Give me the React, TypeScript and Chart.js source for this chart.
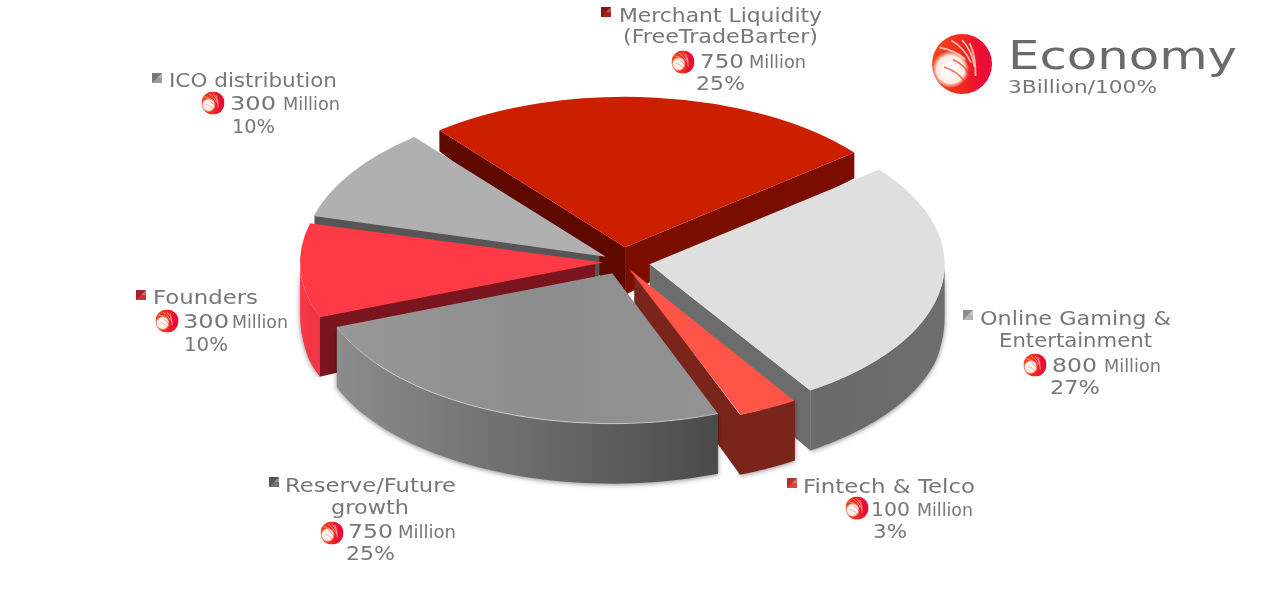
import React, { useEffect, useRef } from "react";
import { Chart, registerables } from "chart.js";

Chart.register(...registerables);

const names = ["Merchant Liquidity (FreeTradeBarter)", "Online Gaming & Entertainment", "Fintech & Telco", "Reserve/Future growth", "Founders", "ICO distribution"];
const tokens = [750, 800, 100, 750, 300, 300];
const amounts = ["750", "800", "100", "750", "300", "300"];
const percents = ["25%", "27%", "3%", "25%", "10%", "10%"];
const unit = "Million";
const titleText = "Economy";
const subtitleText = "3Billion/100%";

const topColors = ["#cb1f00", "#dfdfdf", "#ff5548", "#8f8f8f", "#ff3a47", "#b0b0b0"];
const startWall = ["#5e0800", "#6a6a6a", "#7a241c", "#777777", "#7a1520", "#565656"];
const endWall = ["#7a0c00", "#6c6c6c", "#7a241c", "#555555", "#7a1520", "#565656"];
const swatchColors = ["#a8201a", "#b4b4b4", "#e0453a", "#6f6f6f", "#d0303c", "#9a9a9a"];
const explode = [29, 28, 27, 24, 27, 27];
const drawOrder = [0, 5, 4, 1, 2, 3];

const SQUASH = 0.51;
const RADIUS = 295;

type Line = { text: string; x0: number; x1: number; y: number; size: number };
type Block = { swatch: [number, number]; icon: [number, number]; lines: Line[] };

function nameLines(i: number, splits: number[][], ys: number[]): Line[] {
  const words = names[i].split(" ");
  const out: Line[] = [];
  let w = 0;
  for (let l = 0; l < splits.length; l++) {
    const count = splits[l][2];
    out.push({ text: words.slice(w, w + count).join(" "), x0: splits[l][0], x1: splits[l][1], y: ys[l], size: 19 });
    w += count;
  }
  return out;
}

const blocks: Block[] = [
  { swatch: [601, 7], icon: [683, 62], lines: [...nameLines(0, [[619, 822, 2], [623, 818, 1]], [22, 43]),
    { text: amounts[0], x0: 700, x1: 744, y: 68, size: 19 }, { text: unit, x0: 749, x1: 806, y: 68, size: 18 }, { text: percents[0], x0: 696, x1: 745, y: 90, size: 19 }] },
  { swatch: [963, 310], icon: [1035, 365], lines: [...nameLines(1, [[980, 1171, 3], [999, 1152, 1]], [325, 347]),
    { text: amounts[1], x0: 1052, x1: 1097, y: 372, size: 19 }, { text: unit, x0: 1104, x1: 1161, y: 372, size: 18 }, { text: percents[1], x0: 1050, x1: 1100, y: 394, size: 19 }] },
  { swatch: [787, 478], icon: [857, 508], lines: [...nameLines(2, [[803, 975, 3]], [493]),
    { text: amounts[2], x0: 871, x1: 910, y: 516, size: 19 }, { text: unit, x0: 917, x1: 973, y: 516, size: 18 }, { text: percents[2], x0: 873, x1: 907, y: 538, size: 19 }] },
  { swatch: [269, 477], icon: [332, 533], lines: [...nameLines(3, [[285, 456, 1], [331, 409, 1]], [492, 514]),
    { text: amounts[3], x0: 348, x1: 393, y: 538, size: 19 }, { text: unit, x0: 398, x1: 456, y: 538, size: 18 }, { text: percents[3], x0: 346, x1: 395, y: 560, size: 19 }] },
  { swatch: [136, 290], icon: [167, 321], lines: [...nameLines(4, [[153, 258, 1]], [304]),
    { text: amounts[4], x0: 183, x1: 229, y: 328, size: 19 }, { text: unit, x0: 232, x1: 288, y: 328, size: 18 }, { text: percents[4], x0: 184, x1: 228, y: 351, size: 19 }] },
  { swatch: [152, 73], icon: [213, 103], lines: [...nameLines(5, [[169, 337, 2]], [87]),
    { text: amounts[5], x0: 230, x1: 276, y: 110, size: 19 }, { text: unit, x0: 283, x1: 340, y: 110, size: 18 }, { text: percents[5], x0: 232, x1: 275, y: 133, size: 19 }] },
];

function wallDepth(y: number) {
  return Math.max(21, Math.min(60, 21 + (y - 133) * 0.234));
}

function fitText(ctx: CanvasRenderingContext2D, l: Line, color: string) {
  ctx.save();
  ctx.font = `${l.size}px "DejaVu Sans"`;
  ctx.fillStyle = color;
  const w = ctx.measureText(l.text).width;
  ctx.translate(l.x0, l.y);
  ctx.scale((l.x1 - l.x0) / w, 1);
  ctx.fillText(l.text, 0, 0);
  ctx.restore();
}

function drawLogo(ctx: CanvasRenderingContext2D, cx: number, cy: number, r: number) {
  ctx.save();
  ctx.beginPath();
  ctx.arc(cx, cy, r, 0, Math.PI * 2);
  ctx.clip();
  const g = ctx.createLinearGradient(cx - r, cy, cx + r, cy);
  g.addColorStop(0, "#f2481f");
  g.addColorStop(0.5, "#ee2a1c");
  g.addColorStop(0.8, "#ec0c34");
  g.addColorStop(1, "#e80a3a");
  ctx.fillStyle = g;
  ctx.fillRect(cx - r, cy - r, 2 * r, 2 * r);
  const wx = cx - 0.38 * r;
  const wy = cy + 0.18 * r;
  const w = ctx.createRadialGradient(wx, wy, 0.1 * r, wx, wy, 0.62 * r);
  w.addColorStop(0, "rgba(255,255,255,1)");
  w.addColorStop(0.7, "rgba(255,244,236,0.95)");
  w.addColorStop(1, "rgba(255,220,200,0)");
  ctx.fillStyle = w;
  ctx.fillRect(cx - r, cy - r, 2 * r, 2 * r);
  ctx.strokeStyle = "rgba(255,210,190,0.85)";
  ctx.lineWidth = Math.max(0.6, r * 0.06);
  for (const [a, b, c, d] of [[-0.75, -0.55, 0.1, -0.15], [-0.35, -0.78, 0.3, -0.05], [0, -0.8, 0.42, 0.1], [0.25, -0.7, 0.45, 0.4]]) {
    ctx.beginPath();
    ctx.moveTo(cx + a * r, cy + b * r);
    ctx.quadraticCurveTo(cx + ((a + c) / 2 + 0.12) * r, cy + ((b + d) / 2 - 0.1) * r, cx + c * r, cy + d * r);
    ctx.stroke();
  }
  ctx.strokeStyle = "rgba(240,60,30,0.75)";
  ctx.lineWidth = Math.max(0.6, r * 0.05);
  for (const [a, b, c, d] of [[-0.6, 0.1, 0.1, 0.6], [-0.3, -0.15, 0.25, 0.4]]) {
    ctx.beginPath();
    ctx.moveTo(cx + a * r, cy + b * r);
    ctx.quadraticCurveTo(cx + ((a + c) / 2 + 0.12) * r, cy + ((b + d) / 2 - 0.1) * r, cx + c * r, cy + d * r);
    ctx.stroke();
  }
  ctx.restore();
}

function drawSwatch(ctx: CanvasRenderingContext2D, x: number, y: number, color: string) {
  ctx.save();
  ctx.fillStyle = color;
  ctx.fillRect(x, y, 10, 10);
  ctx.fillStyle = "rgba(0,0,0,0.22)";
  ctx.beginPath();
  ctx.moveTo(x, y);
  ctx.lineTo(x + 10, y);
  ctx.lineTo(x + 5, y + 5);
  ctx.lineTo(x, y + 10);
  ctx.closePath();
  ctx.fill();
  ctx.fillStyle = "rgba(255,255,255,0.25)";
  ctx.beginPath();
  ctx.moveTo(x + 10, y);
  ctx.lineTo(x + 10, y + 5);
  ctx.lineTo(x + 5, y + 5);
  ctx.closePath();
  ctx.fill();
  ctx.restore();
}

function geometry(el: any, cy: number) {
  const s = el.startAngle;
  const e = el.endAngle;
  const mid = (s + e) / 2;
  const off = ((el.options.offset || 0) / 4) * (2 - Math.sin(Math.min(Math.PI, e - s)));
  const tx = el.x + Math.cos(mid) * off;
  const ty = el.y + Math.sin(mid) * off;
  const r = el.outerRadius;
  const screen = (ux: number, uy: number): [number, number] => [ux, cy + SQUASH * (uy - cy)];
  return {
    s,
    e,
    tip: screen(tx, ty),
    pt: (a: number) => screen(tx + r * Math.cos(a), ty + r * Math.sin(a)),
  };
}

const pie3d = {
  id: "pie3d",
  beforeDatasetsDraw(chart: any) {
    const ctx: CanvasRenderingContext2D = chart.ctx;
    const arcs = chart.getDatasetMeta(0).data;
    const cy = arcs[0].y;

    for (const i of drawOrder) {
      const { s, e, tip, pt } = geometry(arcs[i], cy);

      const radial = (a: number, color: string) => {
        const c = pt(a);
        ctx.fillStyle = color;
        ctx.beginPath();
        ctx.moveTo(tip[0], tip[1]);
        ctx.lineTo(c[0], c[1]);
        ctx.lineTo(c[0], c[1] + wallDepth(c[1]));
        ctx.lineTo(tip[0], tip[1] + wallDepth(tip[1]));
        ctx.closePath();
        ctx.fill();
      };

      const a0 = Math.max(s, 0);
      const a1 = Math.min(e, Math.PI);
      if (a1 > a0) {
        const top: [number, number][] = [];
        for (let k = 0; k <= 48; k++) top.push(pt(a0 + ((a1 - a0) * k) / 48));
        const left = Math.min(...top.map((p) => p[0]));
        const right = Math.max(...top.map((p) => p[0]));
        const g = ctx.createLinearGradient(left, 0, right, 0);
        g.addColorStop(0, i === 3 ? "#8c8c8c" : i === 4 ? "#fb3a48" : i === 1 ? "#6a6a6a" : "#7a241c");
        g.addColorStop(0.5, i === 3 ? "#6c6c6c" : i === 4 ? "#f23644" : i === 1 ? "#6b6b6b" : "#7a241c");
        g.addColorStop(1, i === 3 ? "#4a4a4a" : i === 4 ? "#f23644" : i === 1 ? "#6e6e6e" : "#7a241c");
        ctx.save();
        ctx.shadowColor = "rgba(0,0,0,0.45)";
        ctx.shadowBlur = 5;
        ctx.shadowOffsetY = 1;
        ctx.fillStyle = g;
        ctx.beginPath();
        top.forEach((p, k) => (k ? ctx.lineTo(p[0], p[1]) : ctx.moveTo(p[0], p[1])));
        for (let k = top.length - 1; k >= 0; k--) ctx.lineTo(top[k][0], top[k][1] + wallDepth(top[k][1]));
        ctx.closePath();
        ctx.fill();
        ctx.restore();
      }
      if (Math.sin(s - Math.PI / 2) > 0) radial(s, startWall[i]);
      if (Math.sin(e + Math.PI / 2) > 0) radial(e, endWall[i]);
    }

    ctx.save();
    ctx.translate(0, cy);
    ctx.scale(1, SQUASH);
    ctx.translate(0, -cy);
  },
  afterDatasetsDraw(chart: any) {
    const ctx: CanvasRenderingContext2D = chart.ctx;
    ctx.restore();

    const arcs = chart.getDatasetMeta(0).data;
    const rim = geometry(arcs[3], arcs[0].y);
    ctx.save();
    ctx.strokeStyle = "rgba(235,235,235,0.55)";
    ctx.lineWidth = 1;
    ctx.beginPath();
    for (let k = 0; k <= 40; k++) {
      const p = rim.pt(rim.s + ((rim.e - rim.s) * k) / 40);
      if (k) ctx.lineTo(p[0], p[1]);
      else ctx.moveTo(p[0], p[1]);
    }
    ctx.stroke();
    ctx.restore();

    const text = "#777777";
    blocks.forEach((b, i) => {
      drawSwatch(ctx, b.swatch[0], b.swatch[1], swatchColors[i]);
      drawLogo(ctx, b.icon[0], b.icon[1], 11.5);
      b.lines.forEach((l) => fitText(ctx, l, text));
    });
    drawLogo(ctx, 962, 64, 30);
    fitText(ctx, { text: titleText, x0: 1008, x1: 1237, y: 69, size: 39 }, "#6a6a6a");
    fitText(ctx, { text: subtitleText, x0: 1008, x1: 1157, y: 93, size: 17 }, text);
  },
};

export default function App() {
  const ref = useRef<HTMLCanvasElement | null>(null);
  useEffect(() => {
    const canvas = ref.current as HTMLCanvasElement;
    const reserveFill = (canvas.getContext("2d") as CanvasRenderingContext2D).createLinearGradient(330, 0, 720, 0);
    reserveFill.addColorStop(0, "#999999");
    reserveFill.addColorStop(0.55, "#8d8d8d");
    reserveFill.addColorStop(1, "#939393");
    const chart = new Chart(canvas, {
      type: "pie",
      data: {
        labels: names,
        datasets: [
          {
            data: tokens,
            backgroundColor: topColors.map((c, i) => (i === 3 ? reserveFill : c)),
            borderWidth: 0,
            clip: false,
            offset: tokens.map((v, i) => {
              const c = (v / 3000) * Math.PI * 2;
              return (explode[i] * 4) / (2 - Math.sin(Math.min(Math.PI, c)));
            }),
          } as any,
        ],
      },
      options: {
        responsive: false,
        animation: false,
        rotation: -39,
        radius: RADIUS,
        layout: { padding: { left: 0, right: 36, top: 0, bottom: 82 } },
        plugins: { legend: { display: false }, tooltip: { enabled: false } },
      } as any,
      plugins: [pie3d],
    });
    return () => chart.destroy();
  }, []);
  return (
    <div style={{ position: "absolute", left: 0, top: 0, width: 1280, height: 606, background: "#fff" }}>
      <canvas ref={ref} width={1280} height={606} style={{ display: "block" }} />
    </div>
  );
}
